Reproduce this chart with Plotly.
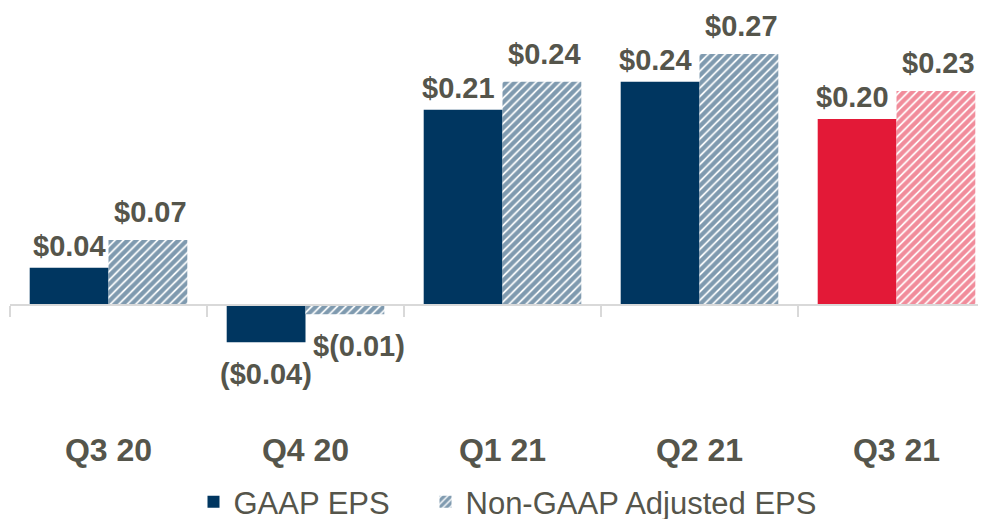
import plotly.graph_objects as go

# ---- data ----
categories = ["Q3 20", "Q4 20", "Q1 21", "Q2 21", "Q3 21"]
gaap_eps = [0.04, -0.04, 0.21, 0.24, 0.20]
non_gaap_eps = [0.07, -0.01, 0.24, 0.27, 0.23]
gaap_labels = ["$0.04", "($0.04)", "$0.21", "$0.24", "$0.20"]
non_gaap_labels = ["$0.07", "$(0.01)", "$0.24", "$0.27", "$0.23"]

# ---- styles ----
NAVY = "#003660"
RED = "#E31937"
TEXT = "#55554B"
AXIS = "#D9D9D9"
FONT = "Liberation Sans, Arial, sans-serif"
bar_colors = [NAVY, NAVY, NAVY, NAVY, RED]

# page offset of the figure (default body margin)
OFF_X, OFF_Y = 8, 8
WIN_W, WIN_H = 986, 519
W, H = WIN_W - OFF_X, WIN_H
# plot area in window pixel coordinates
left, plot_top, plot_bottom = 10, 10, 420
cat_px = 197.0
px_per_unit = 930.0
zero_px = 305.0
ymax = (zero_px - plot_top) / px_per_unit
ymin = -(plot_bottom - zero_px) / px_per_unit
xmax = -0.5 + (WIN_W - left) / cat_px

fig = go.Figure()
fig.add_trace(go.Bar(
    x=categories, y=gaap_eps, name="GAAP EPS",
    marker=dict(color=bar_colors, line=dict(width=0)),
    cliponaxis=False, legend="legend",
))
fig.add_trace(go.Bar(
    x=categories, y=non_gaap_eps, name="Non-GAAP Adjusted EPS",
    marker=dict(color="white", line=dict(width=0),
                pattern=dict(shape="/", fgcolor=bar_colors, bgcolor="white",
                             size=6, solidity=0.7, fillmode="overlay")),
    cliponaxis=False, legend="legend2",
))

half = 0.8 * cat_px / 4.0
annotations = []
for series, labels, xoff, dpos, dneg in [
    (gaap_eps, gaap_labels, -half, 22, -32),
    (non_gaap_eps, non_gaap_labels, half, 28, -32),
]:
    for i, (c, v, t) in enumerate(zip(categories, series, labels)):
        extra = 0
        if series is non_gaap_eps and v < 0:
            extra = 14
        elif series is gaap_eps and v > 0 and i > 0:
            extra = -5
        elif series is non_gaap_eps:
            extra = 3
        annotations.append(dict(
            x=c, y=v, xref="x", yref="y", text=t, showarrow=False,
            xshift=xoff + extra, yshift=dpos if v >= 0 else dneg,
            xanchor="center", yanchor="middle",
            font=dict(family=FONT, size=29, color=TEXT, weight="bold"),
        ))

legend_y = (H - (502 - OFF_Y)) / H
legend_common = dict(orientation="h", xanchor="left", yanchor="middle",
                     xref="container", yref="container", y=legend_y,
                     font=dict(family=FONT, size=31, color=TEXT),
                     bgcolor="rgba(0,0,0,0)")

fig.update_layout(
    width=W, height=H,
    margin=dict(l=left - OFF_X, r=0, t=plot_top - OFF_Y,
                b=H - (plot_bottom - OFF_Y), pad=0, autoexpand=False),
    paper_bgcolor="white", plot_bgcolor="white",
    barmode="group", bargap=0.2, bargroupgap=0,
    showlegend=True,
    legend=dict(x=(206 - 12.5 - OFF_X) / W, **legend_common),
    legend2=dict(x=(438 - 12.5 - OFF_X) / W, **legend_common),
    xaxis=dict(
        type="category", range=[-0.5, xmax],
        anchor="free", position=(0 - ymin) / (ymax - ymin),
        showline=True, linecolor=AXIS, linewidth=2,
        ticks="outside", tickson="boundaries", ticklen=11,
        tickcolor=AXIS, tickwidth=2,
        tickfont=dict(family=FONT, size=32, color=TEXT, weight="bold"),
        ticklabelstandoff=117, automargin=False,
        showgrid=False, zeroline=False, fixedrange=True,
    ),
    yaxis=dict(range=[ymin, ymax], visible=False, showgrid=False,
               zeroline=False, fixedrange=True, automargin=False),
    annotations=annotations,
)

fig.write_html("out.html")
